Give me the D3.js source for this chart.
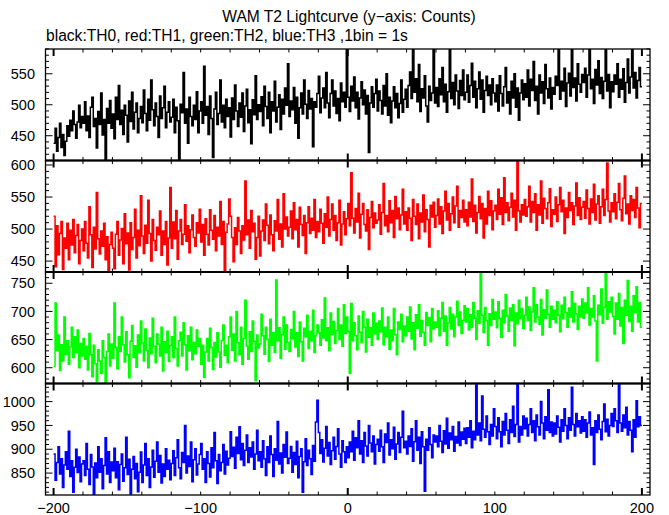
<!DOCTYPE html>
<html><head><meta charset="utf-8">
<script src="https://cdn.jsdelivr.net/npm/d3@7"></script>
<style>body{margin:0;background:#fff}svg{display:block}</style>
</head><body>
<script>
// ---------------- data ----------------
const title = "WAM T2 Lightcurve (y\u2212axis: Counts)";
const subtitle = "black:TH0, red:TH1, green:TH2, blue:TH3 ,1bin = 1s";
const timeStart = -200;   // first bin edge, 1 bin = 1 s
const xTickLabels = [-200, -100, 0, 100, 200];
const seriesNames = ["TH0", "TH1", "TH2", "TH3"];
const seriesColors = ["#000000", "#ff0000", "#00ff00", "#0000ff"];
const yTicks0 = [450, 500, 550];
const yTicks1 = [450, 500, 550, 600];
const yTicks2 = [600, 650, 700, 750];
const yTicks3 = [850, 900, 950, 1000];
const yRange0 = [410, 590];
const yRange1 = [433, 607];
const yRange2 = [572, 770];
const yRange3 = [804, 1038];

const th0 = [
438,462,425,447,470,431,452,418,441,466,449,475,458,490,468,446,472,499,463,481,
470,505,458,482,447,496,512,465,478,430,489,468,519,451,476,410,494,470,507,462,
485,445,512,476,531,468,491,452,499,483,440,506,473,520,461,488,503,455,478,497,
471,524,486,458,509,475,540,492,466,503,481,447,514,478,495,530,463,488,505,472,
480,509,455,496,474,412,501,487,552,470,493,438,512,481,466,499,476,521,455,490,
505,470,562,483,497,452,514,478,415,493,520,468,486,540,472,499,463,509,481,495,
448,511,476,532,490,465,503,480,519,457,498,525,471,492,437,508,484,547,476,500,
489,513,466,530,497,478,520,455,505,490,538,472,496,516,460,509,485,527,499,566,
481,506,492,528,470,512,446,495,519,485,540,501,478,523,493,510,432,505,496,518,
546,487,511,527,495,552,503,479,518,540,498,522,486,510,474,535,505,520,496,599,
512,489,530,506,545,495,520,477,511,537,500,524,485,515,423,503,529,496,518,541,
490,522,507,485,531,498,550,483,512,471,506,529,495,518,479,502,540,488,509,525,
496,531,553,510,592,520,542,505,565,489,526,511,547,498,472,530,507,519,595,503,
528,497,542,516,560,505,533,488,521,596,510,536,500,548,522,494,539,515,556,508,
520,548,504,531,567,512,538,495,526,553,509,540,488,523,546,515,532,500,542,519,
505,532,490,547,518,498,529,560,503,521,485,538,511,550,496,527,475,519,540,508,
534,512,556,498,541,523,570,507,530,485,548,519,537,502,565,526,511,543,493,528,
517,546,531,596,509,538,522,559,497,535,551,514,600,528,543,506,566,533,520,549,
536,559,512,548,590,526,541,502,557,532,571,518,544,510,538,600,522,549,495,537,
521,548,533,566,512,541,525,558,504,536,574,519,545,600,527,552,511,539,560,529];

const th1 = [
520,441,505,460,493,512,437,486,470,509,452,498,475,515,463,490,507,446,482,500,
466,512,478,455,535,491,440,503,469,557,485,461,497,473,509,452,488,431,476,495,
470,438,492,512,459,483,501,446,524,477,494,436,510,468,487,531,455,498,474,552,
489,462,506,478,545,493,450,515,482,467,503,491,528,459,497,476,512,444,486,565,
470,511,485,529,453,497,515,476,492,538,481,505,463,499,522,487,473,510,494,531,
480,507,459,516,492,475,530,498,484,521,466,503,489,543,476,512,434,495,508,547,
520,487,449,502,476,518,497,462,505,483,575,491,514,470,529,496,509,453,487,520,
458,497,514,482,539,506,477,522,491,466,513,497,546,484,508,472,555,500,519,489,
503,528,485,541,499,515,472,534,507,490,521,462,510,535,493,517,498,546,487,512,
496,531,509,478,524,503,550,489,515,539,498,521,482,510,545,475,508,527,491,516,
540,505,588,517,494,532,511,556,486,523,540,507,497,530,468,518,543,502,525,509,
514,538,492,526,571,505,521,496,544,510,529,487,551,516,533,499,522,562,508,527,
498,533,517,482,546,520,507,539,485,525,511,553,496,530,515,472,537,519,542,503,
521,547,508,535,493,528,559,514,540,498,524,550,510,536,567,503,529,518,545,511,
530,505,542,519,578,512,537,494,526,551,516,540,486,532,508,559,521,544,499,528,
537,515,562,523,549,507,580,526,541,513,534,556,519,545,498,607,528,511,538,522,
546,520,535,567,511,543,526,555,498,538,522,575,509,548,532,516,541,563,504,530,
523,550,512,538,565,527,545,493,533,518,557,529,541,507,536,572,521,549,515,534,
543,517,561,532,508,547,526,570,514,539,552,509,535,562,521,546,603,528,511,541,
527,555,516,542,571,530,513,548,583,524,539,508,552,529,546,518,565,533,502,540];

const th2 = [
602,715,630,658,595,641,612,690,624,648,606,637,672,618,655,627,667,600,643,621,
652,615,638,596,661,623,584,640,607,575,632,612,590,648,618,571,629,660,603,642,
617,715,636,598,655,629,690,641,610,664,623,582,647,675,618,639,601,658,627,683,
644,612,669,631,600,653,625,688,638,609,660,642,621,672,594,646,627,665,611,639,
655,618,690,634,603,648,663,621,680,641,596,657,630,672,614,645,625,667,638,652,
606,640,583,628,652,612,670,636,597,645,619,662,628,601,648,676,622,640,609,655,
690,631,660,612,700,645,623,672,606,652,720,638,615,664,629,683,647,577,658,635,
642,695,657,624,672,650,611,686,640,662,627,756,648,671,617,659,690,633,676,645,
629,668,651,700,637,662,620,681,646,612,670,655,693,634,665,648,702,627,657,676,
662,640,685,653,724,648,671,630,697,659,682,643,666,705,650,676,638,712,661,690,
665,590,714,648,680,657,632,692,663,645,700,672,628,686,654,671,640,697,660,679,
650,683,664,706,641,672,655,690,633,667,648,705,659,623,681,668,695,646,674,657,
690,665,708,651,680,632,694,670,712,656,684,663,640,698,675,689,646,705,669,681,
672,701,657,688,716,665,692,640,680,707,669,695,655,690,718,675,699,661,684,710,
681,705,667,694,672,716,688,650,701,679,770,693,663,707,684,640,696,675,721,686,
699,671,717,688,654,702,680,730,692,665,706,684,712,639,697,678,720,687,705,670,
693,725,684,708,666,699,742,681,712,690,677,721,658,703,688,738,695,672,709,686,
702,680,717,693,664,711,687,725,698,672,706,690,735,681,714,696,668,709,690,722,
688,715,697,742,676,705,690,728,683,612,711,694,740,679,707,770,686,717,699,725,
691,660,715,686,732,674,707,643,720,693,755,682,709,665,728,698,744,681,716,672];

const th3 = [
890,835,872,905,848,880,820,867,895,858,938,843,876,810,862,900,851,884,832,869,
876,845,912,858,826,889,863,805,871,840,905,852,880,817,866,924,848,895,830,873,
855,902,840,874,815,868,890,833,861,925,847,879,806,858,885,838,870,811,852,894,
830,867,912,845,880,820,863,898,841,875,915,852,887,829,869,843,901,858,877,836,
870,897,845,882,920,861,838,893,872,950,850,886,864,915,832,878,901,846,869,889,
912,858,880,830,895,870,842,903,861,935,876,828,889,855,872,910,848,896,867,881,
937,885,904,860,925,891,947,878,912,866,898,930,872,903,884,915,858,890,940,876,
895,862,918,880,845,905,872,928,889,843,901,877,958,869,892,850,910,883,936,870,
881,906,852,893,868,917,840,885,901,810,874,922,866,898,880,847,908,875,957,1003,
935,891,920,873,902,948,886,914,868,897,925,879,906,943,890,862,918,895,872,905,
882,915,895,938,877,924,903,960,890,918,872,935,907,886,950,913,895,928,869,910,
921,896,940,905,872,932,914,955,888,920,901,946,879,911,935,893,925,980,903,917,
890,928,906,943,875,916,960,898,925,870,937,905,812,921,898,945,910,882,930,915,
928,905,950,917,893,939,911,965,902,934,920,948,896,927,913,957,908,936,921,944,
912,945,925,960,903,938,920,1035,930,955,918,1012,942,925,970,937,910,952,928,985,
948,922,966,937,905,958,930,975,940,912,962,935,990,927,952,1040,915,948,930,970,
943,965,928,952,985,935,960,918,972,947,930,1000,955,922,968,940,1025,935,957,928,
955,932,970,946,915,962,938,985,950,922,966,940,1030,952,928,975,947,960,934,968,
938,962,925,955,978,930,945,868,960,935,972,942,920,958,995,937,963,928,950,975,
948,985,960,935,1040,955,938,972,945,988,930,958,940,895,962,925,1002,947,968,950];

// ---------------- layout ----------------
const W = 669, H = 515;
const plotL = 45.5, plotR = 650, plotT = 49, plotB = 495;
const font = "'Liberation Sans', Arial, Helvetica, sans-serif";

const panels = [
  {values: th0, color: seriesColors[0], dom: yRange0, ticks: yTicks0},
  {values: th1, color: seriesColors[1], dom: yRange1, ticks: yTicks1},
  {values: th2, color: seriesColors[2], dom: yRange2, ticks: yTicks2},
  {values: th3, color: seriesColors[3], dom: yRange3, ticks: yTicks3}
];

const svg = d3.select("body").append("svg").attr("width", W).attr("height", H)
  .style("font-family", font);

svg.append("text").attr("x", 349).attr("y", 22).attr("text-anchor", "middle")
  .attr("font-size", 15.6).text(title);
svg.append("text").attr("x", 46).attr("y", 41)
  .attr("font-size", 15.6).text(subtitle);

const x = d3.scaleLinear().domain([-205.5, 205.5]).range([plotL, plotR]);
const ph = (plotB - plotT) / panels.length;
const minorX = d3.range(-200, 201, 20);
const majorX = [-200, 0, 200];

panels.forEach((p, i) => {
  const top = plotT + i * ph, bot = top + ph;
  const y = d3.scaleLinear().domain(p.dom).range([bot, top]);
  const g = svg.append("g");
  const cid = "clip" + i;
  svg.append("clipPath").attr("id", cid).append("rect")
    .attr("x", plotL).attr("y", top).attr("width", plotR - plotL).attr("height", ph);

  const pts = p.values.map((v, k) => [timeStart + k, v]);
  pts.push([timeStart + p.values.length, p.values[p.values.length - 1]]);
  const line = d3.line().x(d => x(d[0])).y(d => y(d[1])).curve(d3.curveStepAfter);
  g.append("path").attr("d", line(pts)).attr("fill", "none")
    .attr("stroke", p.color).attr("stroke-width", 1.5)
    .attr("stroke-linejoin", "miter")
    .attr("clip-path", `url(#${cid})`);

  // frame
  g.append("rect").attr("x", plotL).attr("y", top).attr("width", plotR - plotL)
    .attr("height", ph).attr("fill", "none").attr("stroke", "#000").attr("stroke-width", 1.3);

  // x ticks (top and bottom of each panel)
  minorX.forEach(t => {
    const maj = majorX.includes(t);
    const len = maj ? 7 : 3.5, sw = maj ? 2 : 1;
    g.append("line").attr("x1", x(t)).attr("x2", x(t)).attr("y1", top).attr("y2", top + len)
      .attr("stroke", "#000").attr("stroke-width", sw);
    g.append("line").attr("x1", x(t)).attr("x2", x(t)).attr("y1", bot).attr("y2", bot - len)
      .attr("stroke", "#000").attr("stroke-width", sw);
  });

  // y ticks
  const lo = Math.ceil(p.dom[0] / 10) * 10;
  d3.range(lo, p.dom[1] + 0.001, 10).forEach(t => {
    const maj = t % 50 === 0;
    const len = maj ? 7 : 3.5;
    g.append("line").attr("x1", plotL).attr("x2", plotL + len).attr("y1", y(t)).attr("y2", y(t))
      .attr("stroke", "#000").attr("stroke-width", 1);
    g.append("line").attr("x1", plotR).attr("x2", plotR - len).attr("y1", y(t)).attr("y2", y(t))
      .attr("stroke", "#000").attr("stroke-width", 1);
  });
  p.ticks.forEach(t => {
    g.append("text").attr("x", 35).attr("y", y(t)).attr("dy", "0.36em")
      .attr("text-anchor", "end").attr("font-size", 14.5).text(t);
  });

  if (i > 0) {
    svg.append("line").attr("x1", plotL).attr("x2", plotR).attr("y1", top).attr("y2", top)
      .attr("stroke", "#000").attr("stroke-width", 2.2);
  }
});

// x labels
xTickLabels.forEach(t => {
  svg.append("text").attr("x", x(t)).attr("y", 513).attr("text-anchor", "middle")
    .attr("font-size", 14.5).text(t < 0 ? "\u2212" + Math.abs(t) : String(t));
});
</script>
</body></html>
